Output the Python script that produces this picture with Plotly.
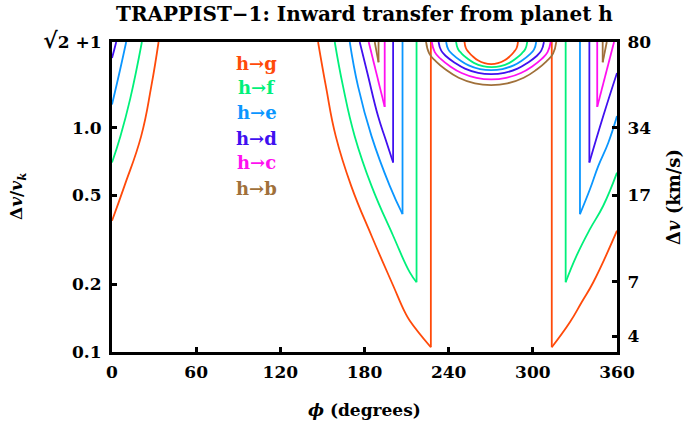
import math
import plotly.graph_objects as go

# ---------------- data ----------------
TOP = 2.414  # sqrt(2)+1, top of the axis

# h -> g  (curve segments separated by None)
PHI_G = [0, 8.9, 20.8, 28.0, 33.2, None,
         146.9, 152.5, 159.5, 170.5, 185.0, 200.4, 208.7, 212.3, 227.3, None,
         251.3, 252.25, 254.16, 257.0, 260.8, 265.6, 270.35, 275.1, 279.9, 283.7, 286.5, 288.45, 289.4, None,
         313.5, 326.5, 334.8, 343.1, 360]
DV_G = [0.385, 0.551, 0.918, 1.53, 2.414, None,
        2.414, 1.53, 0.918, 0.551, 0.330, 0.198, 0.151, 0.138, 0.105, None,
        2.414, 2.270, 2.179, 2.087, 2.000, 1.941, 1.923, 1.941, 2.000, 2.087, 2.179, 2.270, 2.414, None,
        0.105, 0.136, 0.1667, 0.2047, 0.3475]
DROP_PHI_G = [227.3, 313.5]
DROP_DV_G = [0.105, 0.105]

# h -> f
PHI_F = [0, 6.0, 13.0, 21.3, None,
         158.8, 164.7, 173.0, 185.0, 200.4, 212.3, 217.1, None,
         245.3, 246.57, 249.1, 252.9, 257.97, 264.31, 270.65, 276.99, 283.33, 288.4, 292.2, 294.73, 296.0, None,
         323.4, 331.2, 340.7, 350.2, 360]
DV_F = [0.70, 0.918, 1.35, 2.414, None,
        2.414, 1.53, 0.918, 0.551, 0.330, 0.2265, 0.2047, None,
        2.414, 2.252, 2.150, 2.047, 1.949, 1.884, 1.865, 1.884, 1.949, 2.047, 2.150, 2.252, 2.414, None,
        0.2047, 0.269, 0.353, 0.449, 0.631]
DROP_PHI_F = [217.1, 323.4]
DROP_DV_F = [0.2047, 0.2047]

# h -> e
PHI_E = [0, 5.8, 10.1, None,
         169.5, 175.4, 185.0, 198.0, 207.1, None,
         238.2, 239.8, 243.0, 247.8, 254.25, 262.3, 270.3, 278.3, 286.35, 292.8, 297.6, 300.8, 302.4, None,
         333.6, 340.7, 346.7, 353.8, 360]
DV_E = [1.27, 1.82, 2.414, None,
        2.414, 1.53, 0.918, 0.551, 0.412, None,
        2.414, 2.233, 2.120, 2.007, 1.900, 1.829, 1.808, 1.829, 1.900, 2.007, 2.120, 2.233, 2.414, None,
        0.412, 0.532, 0.676, 0.858, 1.128]
DROP_PHI_E = [207.1, 333.6]
DROP_DV_E = [0.412, 0.412]

# h -> d
PHI_D = [0, 1.5, 3.0, None,
         176.6, 182.0, 189.7, 195.0, 200.4, None,
         232.8, 234.7, 238.4, 244.1, 251.6, 261.0, 270.35, 279.7, 289.1, 296.6, 302.3, 306.0, 307.9, None,
         340.3, 350.2, 360]
DV_D = [2.05, 2.22, 2.414, None,
        2.414, 1.76, 1.125, 0.889, 0.70, None,
        2.414, 2.208, 2.080, 1.955, 1.837, 1.759, 1.736, 1.759, 1.837, 1.955, 2.080, 2.208, 2.414, None,
        0.70, 1.128, 1.757]
DROP_PHI_D = [200.4, 340.3]
DROP_DV_D = [0.70, 0.70]

# h -> c
PHI_C = [183.0, 194.4, None,
         228.0, 230.1, 234.35, 240.7, 249.2, 259.8, 270.35, 280.9, 291.5, 300.0, 306.35, 310.5, 312.7, None,
         345.9, 357.9]
DV_C = [2.414, 1.24, None,
        2.414, 2.177, 2.030, 1.888, 1.756, 1.670, 1.644, 1.670, 1.756, 1.888, 2.030, 2.177, 2.414, None,
        1.24, 2.414]
DROP_PHI_C = [194.4, 345.9]
DROP_DV_C = [1.24, 1.24]

# h -> b
PHI_B = [187.3, 190.0, None,
         223.9, 226.2, 230.9, 237.8, 247.1, 258.7, 270.3, 281.9, 293.5, 302.8, 309.7, 314.4, 316.7, None,
         349.8, 352.7]
DV_B = [2.414, 1.96, None,
        2.414, 2.142, 1.979, 1.820, 1.672, 1.578, 1.551, 1.578, 1.672, 1.820, 1.979, 2.142, 2.414, None,
        1.96, 2.414]
DROP_PHI_B = [190.0, 349.8]
DROP_DV_B = [1.96, 1.96]

LABELS = ["h→g", "h→f", "h→e", "h→d", "h→c", "h→b"]
COLORS = ["#FF4A0A", "#00F07A", "#0A96FF", "#4010F0", "#FF10F0", "#A0703A"]

X_TICKS = [0, 60, 120, 180, 240, 300, 360]
Y_TICKS = [0.1, 0.2, 0.5, 1.0, TOP]
Y_TICK_TEXT = ["0.1", "0.2", "0.5", "1.0",
               "<span style='font-size:22px'>√</span>2 +1"]
Y2_TICKS = [0.1176, 0.2059, 0.5, 1.0, TOP]
Y2_TICK_TEXT = ["4", "7", "17", "34", "80"]

# ---------------- figure ----------------
FONT = "DejaVu Serif"
series = [
    (PHI_G, DV_G, DROP_PHI_G, DROP_DV_G),
    (PHI_F, DV_F, DROP_PHI_F, DROP_DV_F),
    (PHI_E, DV_E, DROP_PHI_E, DROP_DV_E),
    (PHI_D, DV_D, DROP_PHI_D, DROP_DV_D),
    (PHI_C, DV_C, DROP_PHI_C, DROP_DV_C),
    (PHI_B, DV_B, DROP_PHI_B, DROP_DV_B),
]

fig = go.Figure()
for (phi, dv, dphi, ddv), col, lab in zip(series, COLORS, LABELS):
    fig.add_trace(go.Scatter(x=phi, y=dv, mode="lines", name=lab,
                             line=dict(color=col, width=1.8, shape="spline", smoothing=1.3),
                             connectgaps=False, showlegend=False, hoverinfo="skip"))
    vx, vy = [], []
    for p, d in zip(dphi, ddv):
        vx += [p, p, None]
        vy += [d, TOP * 1.05, None]
    fig.add_trace(go.Scatter(x=vx, y=vy, mode="lines",
                             line=dict(color=col, width=1.8),
                             connectgaps=False, showlegend=False, hoverinfo="skip"))

ymin, ymax = math.log10(0.1), math.log10(TOP)
tickfont = dict(family=FONT, size=17, color="black", weight="bold")

fig.update_layout(
    width=694, height=422,
    margin=dict(l=112, r=77, t=42, b=70),
    paper_bgcolor="white", plot_bgcolor="white",
    font=dict(family=FONT, color="black"),
    xaxis=dict(range=[0, 360], tickvals=X_TICKS, ticks="inside", ticklen=5, tickwidth=3,
               tickcolor="black", showline=True, linewidth=3, linecolor="black", mirror=True,
               showgrid=False, zeroline=False, tickfont=tickfont, ticklabelstandoff=3),
    yaxis=dict(type="log", range=[ymin, ymax], tickvals=Y_TICKS, ticktext=Y_TICK_TEXT,
               ticks="inside", ticklen=5, tickwidth=3, tickcolor="black",
               showline=True, linewidth=3, linecolor="black", automargin=False,
               showgrid=False, zeroline=False, tickfont=tickfont, ticklabelstandoff=4),
    yaxis2=dict(type="log", range=[ymin, ymax], tickvals=Y2_TICKS, ticktext=Y2_TICK_TEXT,
                overlaying="y", side="right", ticks="inside", ticklen=5, tickwidth=3,
                tickcolor="black", showline=True, linewidth=3, linecolor="black",
                automargin=False,
                showgrid=False, zeroline=False, tickfont=tickfont, ticklabelstandoff=4),
)

# dummy trace to show the right axis
fig.add_trace(go.Scatter(x=[None], y=[None], yaxis="y2", showlegend=False))

ann = []
ann.append(dict(text="<b>TRAPPIST−1: Inward transfer from planet h</b>", xref="paper", yref="paper",
                x=0.5, y=1, yshift=28, xanchor="center", yanchor="middle", showarrow=False,
                font=dict(family=FONT, size=20)))
ann.append(dict(text="<b>Δ<i>v</i>/<i>v</i><sub><i>k</i></sub></b>", xref="paper", yref="paper",
                x=0, y=0.5, xshift=-95, xanchor="center", yanchor="middle", textangle=-90,
                showarrow=False, font=dict(family=FONT, size=17)))
ann.append(dict(text="<b>Δ<i>v</i> (km/s)</b>", xref="paper", yref="paper",
                x=1, y=0.5, xshift=56, xanchor="center", yanchor="middle", textangle=-90,
                showarrow=False, font=dict(family=FONT, size=18)))
ann.append(dict(text="<b><i>ϕ</i> (degrees)</b>", xref="paper", yref="paper",
                x=0.5, y=0, yshift=-58, xanchor="center", yanchor="middle", showarrow=False,
                font=dict(family=FONT, size=17)))
leg_y = [0.932, 0.852, 0.771, 0.690, 0.610, 0.526]
for lab, col, yy in zip(LABELS, COLORS, leg_y):
    ann.append(dict(text=f"<b>{lab}</b>", xref="paper", yref="paper", x=0.287, y=yy,
                    xanchor="center", yanchor="middle",
                    showarrow=False, font=dict(family=FONT, size=18, color=col)))
fig.update_layout(annotations=ann)

fig.write_html("out.html", config={"displayModeBar": False},
               post_script="document.body.style.margin='0px';")
